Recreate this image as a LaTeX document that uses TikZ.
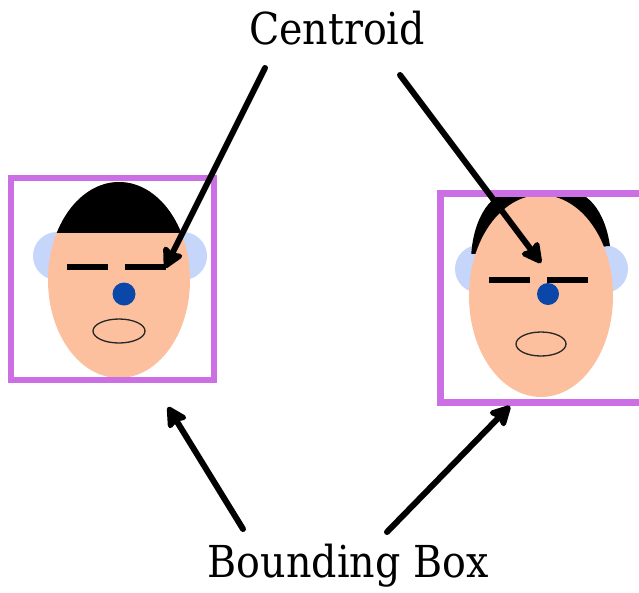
\documentclass[tikz,border=0pt]{standalone}
\usepackage{fontspec}
\setmainfont{DejaVu Serif Condensed}
\usetikzlibrary{arrows.meta}
\definecolor{skin}{HTML}{FCC09E}
\definecolor{ear}{HTML}{C6D6FA}
\definecolor{nose}{HTML}{0A47A9}
\definecolor{frame}{HTML}{CC6FE4}
\tikzset{
  label text/.style={font=\fontsize{44}{52}\selectfont, inner sep=0pt},
  pointer/.style={line width=6pt, line cap=round,
    -{Stealth[length=24pt,width=25pt,inset=4pt,round]}},
  eyebar/.style={line width=5.5pt},
  earshape/.style={fill=ear},
  faceshape/.style={fill=skin},
  noseshape/.style={fill=nose},
  mouthshape/.style={draw=black!85, line width=1.3pt, fill=skin},
  frameline/.style={draw=frame, line width=6.5pt}
}
\begin{document}
\begin{tikzpicture}[x=1pt,y=-1pt]
\useasboundingbox (0,0) rectangle (639,592);

% ---- left face ----
\fill[earshape] (57,256) circle (24);
\fill[earshape] (183,256) circle (24);
\fill[faceshape] (119,280) ellipse (71 and 98);
\begin{scope}
  \clip (0,0) rectangle (639,232);
  \fill[black] (119,280) ellipse (71 and 98);
\end{scope}
\draw[eyebar] (67,267) -- (108,267);
\draw[eyebar] (125,267) -- (166,267);
\fill[noseshape] (124,294) circle (11.5);
\draw[mouthshape] (119,331) ellipse (26 and 12);
\node[frameline, rectangle, minimum width=203pt, minimum height=202pt, inner sep=0pt] (boxL) at (112.5,279) {};
\coordinate (centL) at (165,268);

% ---- right face ----
\fill[earshape] (479,269) circle (24);
\fill[earshape] (604,269) circle (24);
\begin{scope}
  \clip (400,0) -- (680,0) -- (680,242) -- (400,258) -- cycle;
  \fill[black] (541,297) ellipse (75 and 104);
  \fill[black] (511,262) ellipse (40 and 70);
  \fill[black] (571,262) ellipse (40 and 70);
\end{scope}
\fill[faceshape] (541,296) ellipse (72 and 101);
\draw[eyebar] (489,280) -- (530,280);
\draw[eyebar] (547,280) -- (588,280);
\fill[noseshape] (548,294) circle (11);
\draw[mouthshape] (541,344) ellipse (25 and 12);
\node[frameline, rectangle, minimum width=240pt, minimum height=209pt, inner sep=0pt, anchor=north west] (boxR) at (437,190) {};
\coordinate (centR) at (541,263);

% ---- labels ----
\node[label text] (centroid) at (337,28) {Centroid};
\node[label text] (bbox) at (348,566) {Bounding Box};

% ---- pointers ----
\coordinate (cL) at (265,68);
\coordinate (cR) at (400,75);
\coordinate (bL) at (243,529);
\coordinate (bR) at (387,532);
\coordinate (tipL) at (168,407);
\coordinate (tipR) at (510,406);
\draw[pointer] (cL) -- (centL);
\draw[pointer] (cR) -- (centR);
\draw[pointer] (bL) -- (tipL);
\draw[pointer] (bR) -- (tipR);
\end{tikzpicture}
\end{document}
